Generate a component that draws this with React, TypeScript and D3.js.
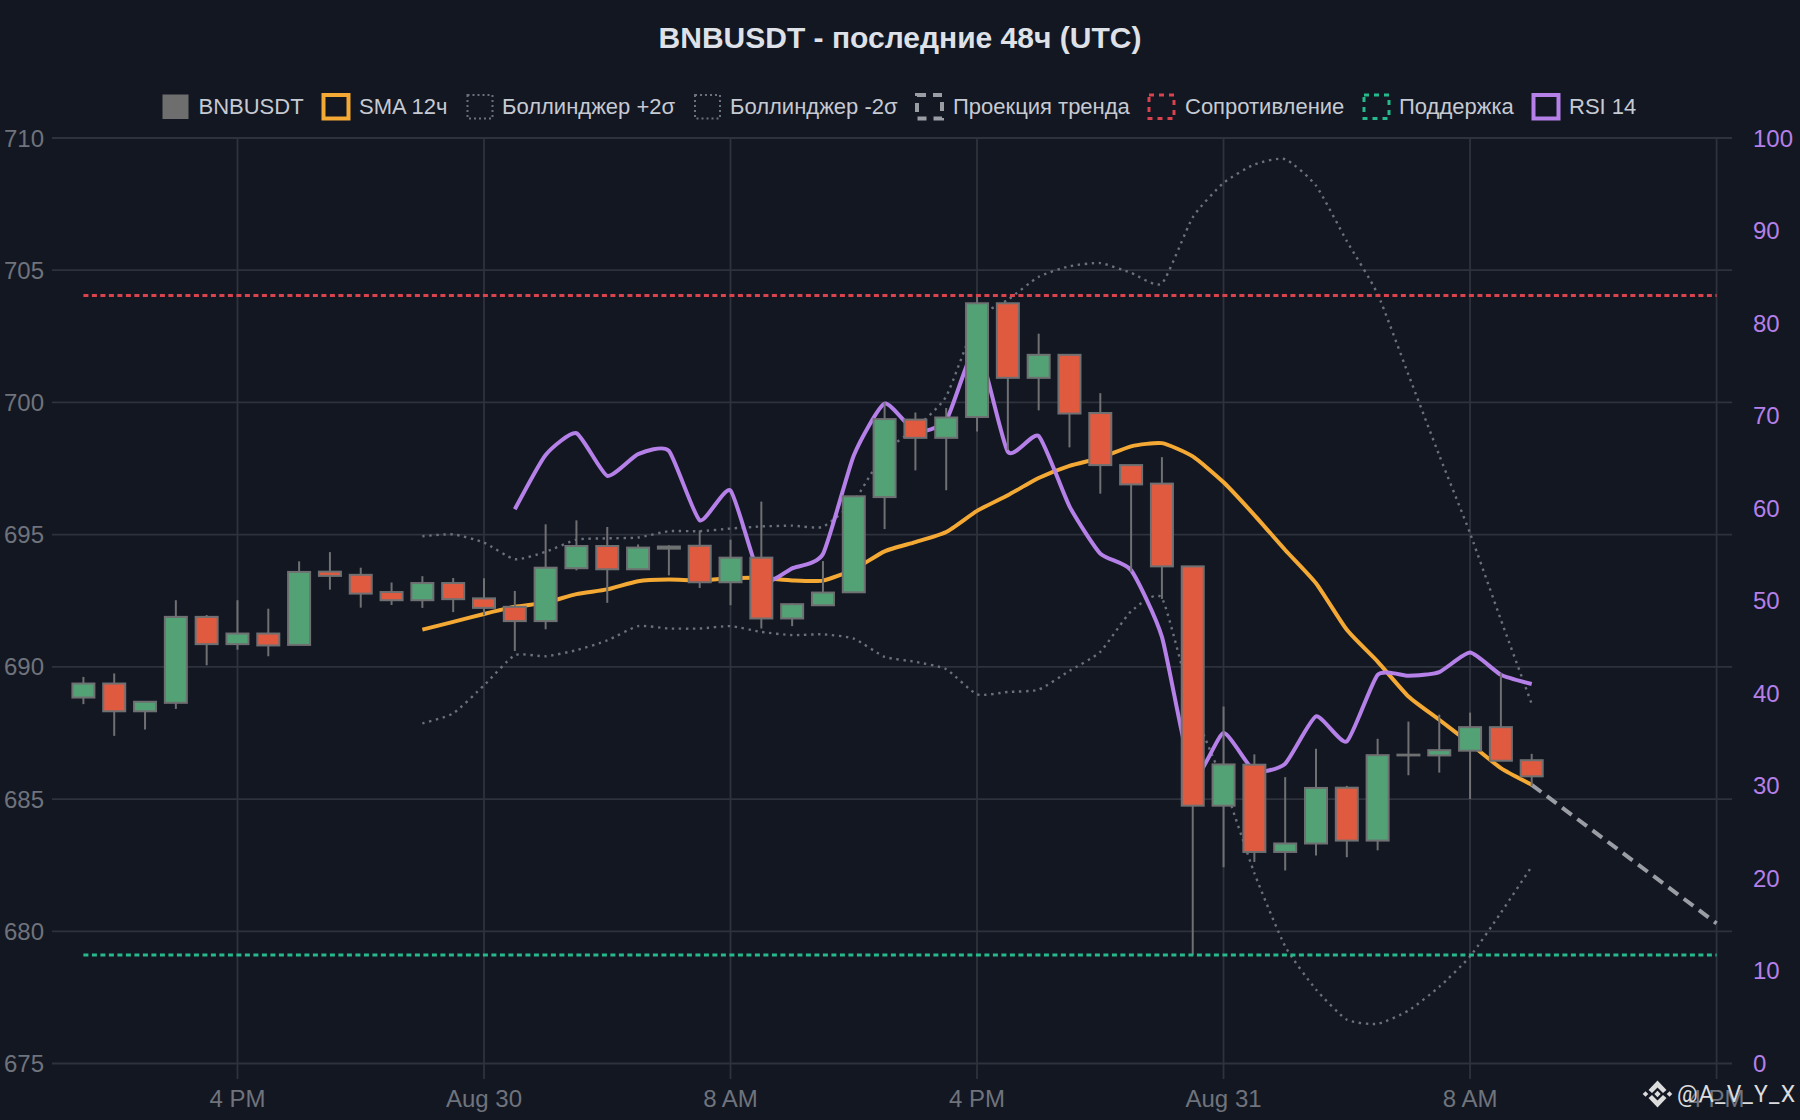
import React from "react";
import * as d3 from "d3";

// ---- data (hourly candles, Aug 29 11:00 UTC onwards) ----
const START_UTC = Date.UTC(2025, 7, 29, 11);
const opens = [688.84,689.37,688.32,688.64,691.89,690.86,691.26,690.83,693.6,693.48,692.83,692.52,693.17,692.59,692.27,691.73,693.73,694.57,693.69,694.47,694.58,693.2,694.13,691.83,692.33,692.82,696.42,699.35,698.66,699.45,703.75,700.93,701.8,699.6,697.63,696.93,693.8,684.75,686.3,683.0,683.32,685.43,683.43,686.68,686.65,686.83,687.72,686.47];
const highs = [689.62,689.75,688.7,692.52,691.96,692.52,692.2,693.99,694.34,693.75,693.19,693.43,693.36,693.35,692.87,695.39,695.54,695.29,694.63,694.6,695.16,694.81,696.25,692.4,694.0,696.45,700.0,699.62,699.79,704.05,703.75,702.6,701.8,700.35,697.63,697.93,693.8,688.5,686.69,685.83,686.9,685.5,687.28,687.93,688.19,688.27,689.77,686.71];
const lows = [688.59,687.39,687.63,688.41,690.06,690.65,690.4,690.83,692.92,692.24,692.34,692.23,692.07,691.95,690.6,691.42,693.65,692.42,693.69,693.46,692.98,692.33,691.45,691.54,692.3,692.8,695.21,697.43,696.68,698.9,698.2,699.7,698.3,696.55,693.6,692.57,679.1,682.42,682.62,682.3,682.87,682.8,683.06,685.9,686.0,685.0,686.45,685.5];
const closes = [689.37,688.32,688.68,691.89,690.86,691.26,690.81,693.59,693.44,692.77,692.52,693.17,692.56,692.23,691.73,693.75,694.57,693.69,694.51,694.55,693.2,694.13,691.83,692.37,692.81,696.45,699.37,698.66,699.43,703.75,700.93,701.8,699.58,697.63,696.9,693.8,684.75,686.31,683.0,683.32,685.42,683.43,686.66,686.65,686.85,687.72,686.45,685.86];

const SMA_START = 11;
const sma12 = [691.41,691.7,692.0,692.27,692.43,692.75,692.93,693.24,693.3,693.27,693.35,693.36,693.27,693.26,693.68,694.37,694.72,695.1,695.9,696.49,697.14,697.6,697.9,698.34,698.46,697.96,696.98,695.74,694.42,693.16,691.4,690.2,688.88,688.0,687.1,686.17,685.54];
const bollUpper = [694.94,695.01,694.7,694.07,694.35,694.81,694.86,694.89,695.13,695.13,695.23,695.31,695.34,695.3,696.26,698.1,699.03,700.23,703.12,703.88,704.75,705.15,705.27,704.9,704.5,707.0,708.3,709.0,709.2,708.2,706.1,704.1,701.05,698.0,695.05,691.78,688.6];
const bollLower = [687.86,688.24,689.3,690.44,690.4,690.63,691.0,691.54,691.45,691.45,691.54,691.32,691.2,691.23,691.07,690.38,690.19,689.91,688.96,689.05,689.14,689.85,690.57,692.1,692.6,688.5,685.6,682.2,679.43,677.8,676.66,676.5,677.0,677.9,679.05,680.7,682.45];
const RSI_START = 14;
const rsi14 = [59.88,65.75,68.1,63.5,65.85,66.2,58.7,61.9,52.2,53.5,55.05,65.7,71.3,68.3,69.5,77.45,66.1,67.8,60.2,55.1,53.3,46.1,31.0,35.7,31.6,32.4,37.5,34.8,42.0,41.9,42.3,44.4,42.0,41.0];
const trendEndIndex = 53;
const trendEnd = 680.3;
const resistance = 704.04;
const support = 679.1;
const resistSupportEndIndex = 53;

const priceTicks = [675,680,685,690,695,700,705,710];
const rsiTicks = [0,10,20,30,40,50,60,70,80,90,100];
const timeTickHours = [5,13,21,29,37,45,53];
const timeTickLabels = ["4 PM","Aug 30","8 AM","4 PM","Aug 31","8 AM","4 PM"];
const legendLabels = ["BNBUSDT","SMA 12ч","Боллинджер +2σ","Боллинджер -2σ","Проекция тренда","Сопротивление","Поддержка","RSI 14"];
const titleText = "BNBUSDT - последние 48ч (UTC)";
const watermarkText = "@A_V_Y_X";

// ---- style & layout ----
const W = 1800, H = 1120;
const BG = "#131722";
const GRID = "#2e323c";
const FONT = "'Liberation Sans', Arial, sans-serif";
const TICK = "#6f737c";
const PURPLE = "#b580e8";
const ORANGE = "#f4a935";
const GREEN = "#52a276";
const RED = "#e05a40";
const CANDLE_EDGE = "#6f7072";
const DOT = "#6a707c";
const TREND = "#9b9da4";
const RES = "#d9434e";
const SUP = "#27b98b";
const LEFT = 68, RIGHT = 1732, TOP = 138, BOTTOM = 1063.5;

const t = (i: number) => new Date(START_UTC + i * 3600e3);
const x = d3.scaleUtc().domain([t(-0.5), t(53.5)]).range([LEFT, RIGHT]);
const y = d3.scaleLinear().domain([675, 710]).range([BOTTOM, TOP]);
const yR = d3.scaleLinear().domain([0, 100]).range([BOTTOM, TOP]);
const BODY_W = 22;

const mkLine = (scale: (v: number) => number, start: number) =>
  d3.line<number>()
    .x((_, i) => x(t(start + i)))
    .y((v) => scale(v))
    .curve(d3.curveCardinal.tension(0.45));

const legendPos = [
  { sx: 163, sw: 25, tx: 198.5 },
  { sx: 323.5, sw: 25, tx: 359 },
  { sx: 467.5, sw: 25, tx: 502 },
  { sx: 695, sw: 25, tx: 730 },
  { sx: 917, sw: 25, tx: 953 },
  { sx: 1149, sw: 25, tx: 1185 },
  { sx: 1364, sw: 25, tx: 1399 },
  { sx: 1533.5, sw: 25, tx: 1569 },
];
const legendStyle = [
  { fill: "#6e6e6e", stroke: "#6e6e6e", dash: undefined, sw: 1 },
  { fill: "none", stroke: ORANGE, dash: undefined, sw: 4 },
  { fill: "none", stroke: DOT, dash: "2,3", sw: 2 },
  { fill: "none", stroke: DOT, dash: "2,3", sw: 2 },
  { fill: "none", stroke: TREND, dash: "9,7", sw: 4 },
  { fill: "none", stroke: RES, dash: "5,5", sw: 3 },
  { fill: "none", stroke: SUP, dash: "5,5", sw: 3 },
  { fill: "none", stroke: PURPLE, dash: undefined, sw: 4 },
];

function BinanceMark({ cx, cy }: { cx: number; cy: number }) {
  const d = (x0: number, y0: number, r: number) =>
    `M${cx + x0},${cy + y0 - r}L${cx + x0 + r},${cy + y0}L${cx + x0},${cy + y0 + r}L${cx + x0 - r},${cy + y0}Z`;
  const chevron = (s: number) =>
    `M${cx - 9},${cy + s * 4}L${cx},${cy + s * 13.5}L${cx + 9},${cy + s * 4}L${cx + 5.5},${cy + s * 1}L${cx},${cy + s * 6.5}L${cx - 5.5},${cy + s * 1}Z`;
  return (
    <g fill="#dcdcdc">
      <path d={chevron(1)} />
      <path d={chevron(-1)} />
      <path d={d(0, 0, 3.2)} />
      <path d={d(-12, 0, 2.8)} />
      <path d={d(12, 0, 2.8)} />
    </g>
  );
}

export default function App() {
  const idx = d3.range(opens.length);
  return (
    <div style={{ position: "fixed", inset: 0, background: BG }}>
      <svg width={W} height={H} style={{ display: "block" }} fontFamily={FONT}>
        <rect width={W} height={H} fill={BG} />
        <text x={900} y={48} textAnchor="middle" fontSize={30} fontWeight={700} fill="#dfe1e8">{titleText}</text>

        {/* legend */}
        {legendLabels.map((lab, i) => (
          <g key={lab}>
            <rect x={legendPos[i].sx} y={95} width={legendPos[i].sw} height={23.5}
              fill={legendStyle[i].fill} stroke={legendStyle[i].stroke}
              strokeWidth={legendStyle[i].sw} strokeDasharray={legendStyle[i].dash} />
            <text x={legendPos[i].tx} y={113.5} fontSize={22} fill="#c6cad2">{lab}</text>
          </g>
        ))}

        {/* grid */}
        {priceTicks.map((v) => (
          <g key={v}>
            <line x1={52} x2={RIGHT} y1={y(v)} y2={y(v)} stroke={GRID} strokeWidth={1.8} />
            <text x={44} y={y(v) + 8.5} textAnchor="end" fontSize={24} fill={TICK}>{v}</text>
          </g>
        ))}
        {rsiTicks.map((v) => (
          <text key={v} x={1753} y={yR(v) + 8.5} fontSize={24} fill={PURPLE}>{v}</text>
        ))}
        {timeTickHours.map((h, i) => (
          <g key={h}>
            <line x1={x(t(h))} x2={x(t(h))} y1={TOP} y2={1079} stroke={GRID} strokeWidth={1.8} />
            <text x={x(t(h))} y={1107} textAnchor="middle" fontSize={24} fill={TICK}>{timeTickLabels[i]}</text>
          </g>
        ))}

        {/* indicators, under the candles */}
        <path d={mkLine(y, SMA_START)(bollUpper) ?? ""} fill="none" stroke={DOT} strokeWidth={2.4} strokeDasharray="2.4,4.6" />
        <path d={mkLine(y, SMA_START)(bollLower) ?? ""} fill="none" stroke={DOT} strokeWidth={2.4} strokeDasharray="2.4,4.6" />
        <path d={mkLine(y, SMA_START)(sma12) ?? ""} fill="none" stroke={ORANGE} strokeWidth={4} />
        <path d={mkLine(yR, RSI_START)(rsi14) ?? ""} fill="none" stroke={PURPLE} strokeWidth={4} />
        <line x1={x(t(47))} y1={y(sma12[sma12.length - 1])} x2={x(t(trendEndIndex))} y2={y(trendEnd)}
          stroke={TREND} strokeWidth={4} strokeDasharray="12,7" />

        {/* candles */}
        {idx.map((i) => {
          const cx = x(t(i));
          const up = closes[i] >= opens[i];
          const top = y(Math.max(opens[i], closes[i]));
          const bot = y(Math.min(opens[i], closes[i]));
          return (
            <g key={i}>
              <line x1={cx} x2={cx} y1={y(highs[i])} y2={y(lows[i])} stroke={CANDLE_EDGE} strokeWidth={2} />
              <rect x={cx - BODY_W / 2} y={top} width={BODY_W} height={Math.max(bot - top, 0.5)}
                fill={up ? GREEN : RED} stroke={CANDLE_EDGE} strokeWidth={2} />
            </g>
          );
        })}

        {/* levels */}
        <line x1={x(t(0))} x2={x(t(resistSupportEndIndex))} y1={y(resistance)} y2={y(resistance)}
          stroke={RES} strokeWidth={3} strokeDasharray="5,3.5" />
        <line x1={x(t(0))} x2={x(t(resistSupportEndIndex))} y1={y(support)} y2={y(support)}
          stroke={SUP} strokeWidth={3} strokeDasharray="5,3.5" />

        {/* watermark */}
        <BinanceMark cx={1657.5} cy={1094} />
        <text x={1677} y={1102} fontSize={23} fontFamily="Roboto, sans-serif" letterSpacing={1.2} fill="#dcdcdc">{watermarkText}</text>
      </svg>
    </div>
  );
}
